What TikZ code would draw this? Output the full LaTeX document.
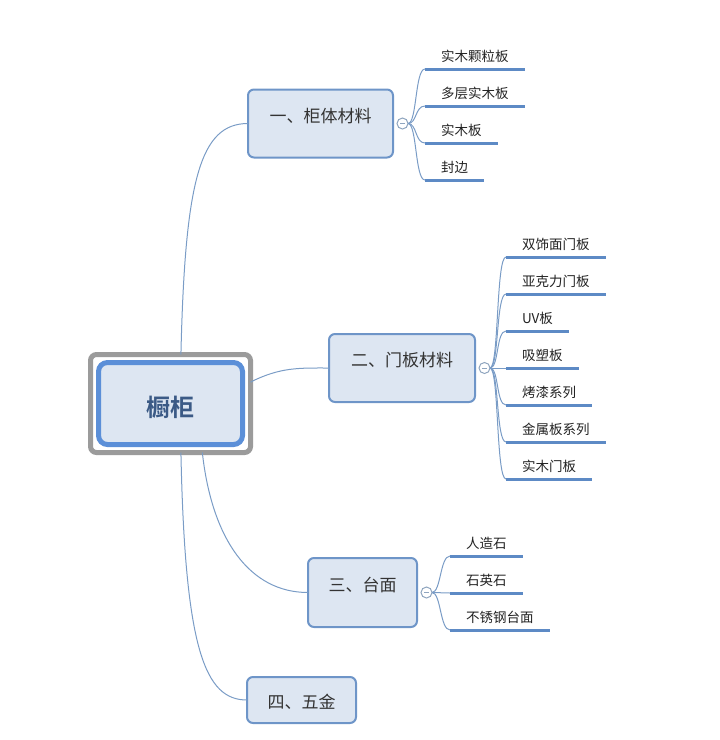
\documentclass[tikz,border=0pt]{standalone}
\usepackage{fontspec}
\setmainfont{Noto Sans CJK SC}[BoldFont={Noto Sans CJK SC Bold}]
\usepackage{tikz}
\usetikzlibrary{positioning}
\usetikzlibrary{shapes,backgrounds,calc}
\usepackage{color}
\definecolor{boxfill}{RGB}{221,230,242}
\definecolor{brblue}{RGB}{110,149,200}
\definecolor{hubblue}{RGB}{91,143,216}
\definecolor{hubtext}{RGB}{59,90,134}
\definecolor{framegray}{RGB}{155,155,155}
\definecolor{linkblue}{RGB}{122,156,198}
\definecolor{ulineblue}{RGB}{93,138,197}
\definecolor{foldgray}{RGB}{143,165,191}
\definecolor{brtext}{RGB}{51,51,51}
\definecolor{leaftext}{RGB}{34,34,34}
\tikzset{
    % Define connector style
    link/.style={
           draw=linkblue,
           line width=1pt},
    % Define underline of a leaf
    uline/.style={
           draw=ulineblue,
           line width=3pt}
}
\newcommand{\brwidth}{145pt}
\newcommand{\brheight}{68pt}

\begin{document}
\begin{tikzpicture}[x=1pt, y=-1pt, outer sep=0pt]
\tikzstyle{hub}=[draw=hubblue, line width=5pt, rounded corners=9pt, fill=boxfill, minimum width=144pt, minimum height=82pt, font=\bfseries\fontsize{24}{28}\selectfont, text=hubtext, text height=25pt, text depth=0pt]
\tikzstyle{hubframe}=[draw=framegray, line width=5pt, rounded corners=6pt, minimum width=160pt, minimum height=98pt]
\tikzstyle{br}=[draw=brblue, line width=2pt, rounded corners=6pt, fill=boxfill, minimum width=\brwidth, minimum height=\brheight, font=\fontsize{17}{20}\selectfont, text=brtext, text height=14pt, text depth=17pt]
\tikzstyle{fold}=[draw=foldgray, fill=white, circle, line width=1pt, minimum size=11pt, inner sep=0pt, path picture={\draw[foldgray, line width=0.8pt] ([xshift=-2.5pt]path picture bounding box.center) -- ([xshift=2.5pt]path picture bounding box.center);}]
\tikzstyle{leaf}=[anchor=south west, inner xsep=16pt, inner ysep=6pt, text height=11pt, text depth=2pt, font=\fontsize{13.5}{16}\selectfont, text=leaftext]

\useasboundingbox (0,0) rectangle (720,740);

\node[hub] (hub) at (170.5,403.5) {橱柜};
\node[hubframe] (hubframe) at (hub.center) {};

\node[br] (br1) at (320.5,123.5) {一、柜体材料};
\node[br, minimum width=146pt] (br2) at (402,368) {二、门板材料};
\node[br, minimum width=109pt, minimum height=69pt] (br3) at (362.5,592.5) {三、台面};
\node[br, minimum width=109pt, minimum height=46pt, text height=17pt, text depth=0pt] (br4) at (301.5,700) {四、五金};

\draw[link] (hubframe.78)  .. controls (185,180) and (200,123.5) .. (br1.west);
\draw[link] (hubframe.15)  .. controls +(30,-15) and +(-30,0) .. (br2.west);
\draw[link] (hubframe.-57) .. controls (212,540) and (250,592.5) .. (br3.west);
\draw[link] (hubframe.-78) .. controls (185,650) and (205,700) .. (br4.west);

\node[fold] (fold1) [right = 4pt of br1] {};
\node[fold] (fold2) [right = 4pt of br2] {};
\node[fold] (fold3) [right = 4pt of br3] {};

% cabinet body
\node[leaf] (body0) at (425,69)  {实木颗粒板};
\node[leaf] (body1) at (425,106) {多层实木板};
\node[leaf] (body2) at (425,143) {实木板};
\node[leaf] (body3) at (425,180) {封边};

\draw[link] (fold1.east) .. controls +(9,0) and +(-10,0) .. (body0.south west);
\draw[link] (fold1.east) .. controls +(9,0) and +(-10,0) .. (body1.south west);
\draw[link] (fold1.east) .. controls +(9,0) and +(-10,0) .. (body2.south west);
\draw[link] (fold1.east) .. controls +(9,0) and +(-10,0) .. (body3.south west);

\draw[uline] (body0.south west) -- (body0.south east);
\draw[uline] (body1.south west) -- (body1.south east);
\draw[uline] (body2.south west) -- (body2.south east);
\draw[uline] (body3.south west) -- (body3.south east);

% doors
\node[leaf] (door0) at (506,257) {双饰面门板};
\node[leaf] (door1) at (506,294) {亚克力门板};
\node[leaf] (door2) at (506,331) {UV板};
\node[leaf] (door3) at (506,368) {吸塑板};
\node[leaf] (door4) at (506,405) {烤漆系列};
\node[leaf] (door5) at (506,442) {金属板系列};
\node[leaf] (door6) at (506,479) {实木门板};

\draw[link] (fold2.east) .. controls +(9,0) and +(-10,0) .. (door0.south west);
\draw[link] (fold2.east) .. controls +(9,0) and +(-10,0) .. (door1.south west);
\draw[link] (fold2.east) .. controls +(9,0) and +(-10,0) .. (door2.south west);
\draw[link] (fold2.east) -- (door3.south west);
\draw[link] (fold2.east) .. controls +(9,0) and +(-10,0) .. (door4.south west);
\draw[link] (fold2.east) .. controls +(9,0) and +(-10,0) .. (door5.south west);
\draw[link] (fold2.east) .. controls +(9,0) and +(-10,0) .. (door6.south west);

\draw[uline] (door0.south west) -- (door0.south east);
\draw[uline] (door1.south west) -- (door1.south east);
\draw[uline] (door2.south west) -- (door2.south east);
\draw[uline] (door3.south west) -- (door3.south east);
\draw[uline] (door4.south west) -- (door4.south east);
\draw[uline] (door5.south west) -- (door5.south east);
\draw[uline] (door6.south west) -- (door6.south east);

% worktop
\node[leaf] (top0) at (450,556) {人造石};
\node[leaf] (top1) at (450,593) {石英石};
\node[leaf] (top2) at (450,630) {不锈钢台面};

\draw[link] (fold3.east) .. controls +(9,0) and +(-10,0) .. (top0.south west);
\draw[link] (fold3.east) -- (top1.south west);
\draw[link] (fold3.east) .. controls +(9,0) and +(-10,0) .. (top2.south west);

\draw[uline] (top0.south west) -- (top0.south east);
\draw[uline] (top1.south west) -- (top1.south east);
\draw[uline] (top2.south west) -- (top2.south east);

\end{tikzpicture}
\end{document}
